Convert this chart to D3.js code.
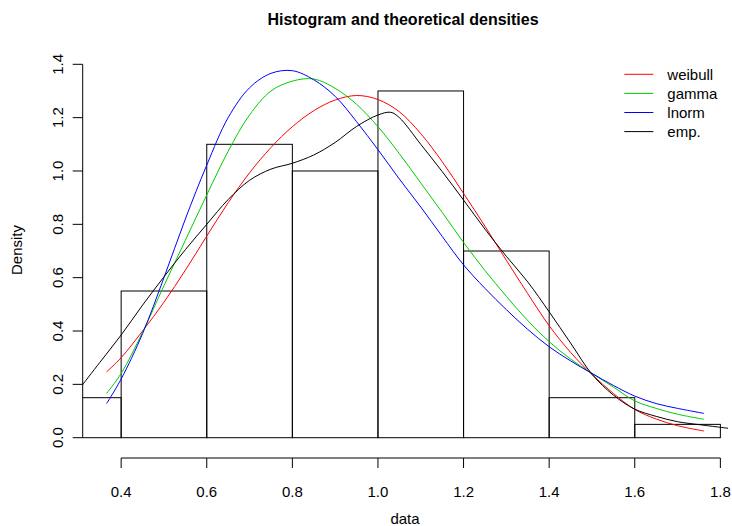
<!DOCTYPE html>
<html>
<head>
<meta charset="utf-8">
<script src="https://cdn.jsdelivr.net/npm/d3@7"></script>
<style>
  body { margin: 0; background: #fff; }
  text { font-family: "Liberation Sans", Arial, Helvetica, sans-serif; fill: #000; }
</style>
</head>
<body>
<div class="chart"></div>
<script>
// histogram (density scale)
const breaks = [0.2, 0.4, 0.6, 0.8, 1.0, 1.2, 1.4, 1.6, 1.8];
const binDensity = [0.15, 0.55, 1.1, 1.0, 1.3, 0.7, 0.15, 0.05];

// fitted densities
const fitX = [0.366, 0.40, 0.45, 0.50, 0.55, 0.60, 0.65, 0.70, 0.75, 0.80, 0.85, 0.90, 0.95, 1.00,
  1.05, 1.10, 1.15, 1.20, 1.25, 1.30, 1.35, 1.40, 1.45, 1.50, 1.55, 1.60, 1.65, 1.70, 1.762];
const weibullY = [0.247, 0.30, 0.40, 0.508, 0.628, 0.756, 0.881, 0.993, 1.088, 1.166, 1.226, 1.266, 1.283, 1.268,
  1.222, 1.14, 1.035, 0.916, 0.793, 0.665, 0.54, 0.42, 0.32, 0.237, 0.166, 0.106, 0.07, 0.045, 0.025];
const gammaY = [0.166, 0.241, 0.395, 0.57, 0.74, 0.91, 1.074, 1.21, 1.30, 1.337, 1.345, 1.31, 1.25, 1.166,
  1.065, 0.955, 0.845, 0.732, 0.627, 0.53, 0.439, 0.36, 0.295, 0.241, 0.19, 0.138, 0.11, 0.088, 0.069];
const lnormY = [0.128, 0.22, 0.39, 0.60, 0.82, 1.022, 1.20, 1.312, 1.366, 1.376, 1.342, 1.28, 1.185, 1.08,
  0.97, 0.865, 0.755, 0.648, 0.56, 0.48, 0.406, 0.341, 0.288, 0.241, 0.196, 0.156, 0.128, 0.11, 0.091];

// empirical (kernel) density
const empX = [0.308, 0.35, 0.40, 0.45, 0.50, 0.55, 0.60, 0.65, 0.70, 0.75, 0.80, 0.85, 0.90, 0.95, 1.00, 1.03,
  1.05, 1.10, 1.15, 1.20, 1.25, 1.30, 1.35, 1.40, 1.45, 1.50, 1.55, 1.60, 1.65, 1.70, 1.75, 1.82];
const empY = [0.195, 0.282, 0.385, 0.497, 0.603, 0.705, 0.80, 0.893, 0.965, 1.007, 1.029, 1.06, 1.107, 1.167, 1.21, 1.22,
  1.20, 1.10, 0.998, 0.891, 0.782, 0.68, 0.584, 0.472, 0.355, 0.238, 0.16, 0.107, 0.08, 0.06, 0.049, 0.035];

const xTicks = [0.4, 0.6, 0.8, 1.0, 1.2, 1.4, 1.6, 1.8];
const yTicks = [0.0, 0.2, 0.4, 0.6, 0.8, 1.0, 1.2, 1.4];
const legendLabels = ['weibull', 'gamma', 'lnorm', 'emp.'];
const legendColors = ['#ff0000', '#00cd00', '#0000ff', '#000000'];

const width = 732;
const height = 526;
const plotLeft = 82.7;
const plotRight = 728;
const axisY = 458;

// x limits are the fitted range, widened by 4% like R does
const xlim = [0.366, 1.762];
const pad = (xlim[1] - xlim[0]) * 0.04;

const xScale = d3.scaleLinear()
  .domain([xlim[0] - pad, xlim[1] + pad])
  .range([plotLeft, plotRight]);

const yScale = d3.scaleLinear()
  .domain([0, 1.4])
  .range([437.7, 64.3]);

const svg = d3.select('.chart')
  .append('svg')
  .attr('width', width)
  .attr('height', height);

svg.append('clipPath')
  .attr('id', 'plot-clip')
  .append('rect')
  .attr('x', plotLeft)
  .attr('y', 0)
  .attr('width', plotRight - plotLeft)
  .attr('height', axisY);

const plot = svg.append('g').attr('clip-path', 'url(#plot-clip)');

// bars
plot.selectAll('rect.bar')
  .data(binDensity)
  .enter()
  .append('rect')
  .attr('class', 'bar')
  .attr('x', (d, i) => xScale(breaks[i]))
  .attr('y', d => yScale(d))
  .attr('width', (d, i) => xScale(breaks[i + 1]) - xScale(breaks[i]))
  .attr('height', d => yScale(0) - yScale(d))
  .attr('fill', 'none')
  .attr('stroke', '#000')
  .attr('stroke-width', 1);

const lineGenerator = d3.line()
  .x(d => xScale(d[0]))
  .y(d => yScale(d[1]))
  .curve(d3.curveCatmullRom.alpha(0.5));

const curves = [
  fitX.map((x, i) => [x, weibullY[i]]),
  fitX.map((x, i) => [x, gammaY[i]]),
  fitX.map((x, i) => [x, lnormY[i]]),
  empX.map((x, i) => [x, empY[i]])
];

curves.forEach((pts, i) => {
  plot.append('path')
    .attr('fill', 'none')
    .attr('stroke', legendColors[i])
    .attr('stroke-width', 1)
    .attr('d', lineGenerator(pts));
});

// X Axis
const xAxis = svg.append('g');
xAxis.append('line')
  .attr('x1', xScale(xTicks[0])).attr('x2', xScale(xTicks[xTicks.length - 1]))
  .attr('y1', axisY).attr('y2', axisY)
  .attr('stroke', '#000');
xAxis.selectAll('line.tick')
  .data(xTicks)
  .enter()
  .append('line')
  .attr('class', 'tick')
  .attr('x1', d => xScale(d)).attr('x2', d => xScale(d))
  .attr('y1', axisY).attr('y2', axisY + 10)
  .attr('stroke', '#000');
xAxis.selectAll('text')
  .data(xTicks)
  .enter()
  .append('text')
  .attr('x', d => xScale(d))
  .attr('y', 496.5)
  .attr('text-anchor', 'middle')
  .style('font-size', '15px')
  .text(d => d.toFixed(1));

// Y Axis
const yAxis = svg.append('g');
yAxis.append('line')
  .attr('x1', plotLeft).attr('x2', plotLeft)
  .attr('y1', yScale(0)).attr('y2', yScale(1.4))
  .attr('stroke', '#000');
yAxis.selectAll('line.tick')
  .data(yTicks)
  .enter()
  .append('line')
  .attr('class', 'tick')
  .attr('x1', plotLeft - 10).attr('x2', plotLeft)
  .attr('y1', d => yScale(d)).attr('y2', d => yScale(d))
  .attr('stroke', '#000');
yAxis.selectAll('text')
  .data(yTicks)
  .enter()
  .append('text')
  .attr('transform', d => `translate(62.5, ${yScale(d)}) rotate(-90)`)
  .attr('text-anchor', 'middle')
  .style('font-size', '15px')
  .text(d => d.toFixed(1));

// titles
svg.append('text')
  .attr('x', 403)
  .attr('y', 25)
  .attr('text-anchor', 'middle')
  .style('font-size', '16px')
  .style('font-weight', 'bold')
  .text('Histogram and theoretical densities');

svg.append('text')
  .attr('x', 405)
  .attr('y', 524)
  .attr('text-anchor', 'middle')
  .style('font-size', '15px')
  .text('data');

svg.append('text')
  .attr('transform', 'translate(21.5, 250) rotate(-90)')
  .attr('text-anchor', 'middle')
  .style('font-size', '15px')
  .text('Density');

// legend
const legend = svg.append('g');
legendLabels.forEach((label, i) => {
  const ly = 74.3 + i * 19.1;
  legend.append('line')
    .attr('x1', 624.3).attr('x2', 653.3)
    .attr('y1', ly).attr('y2', ly)
    .attr('stroke', legendColors[i]);
  legend.append('text')
    .attr('x', 667.3)
    .attr('y', ly)
    .attr('dy', '0.35em')
    .style('font-size', '15px')
    .text(label);
});
</script>
</body>
</html>
